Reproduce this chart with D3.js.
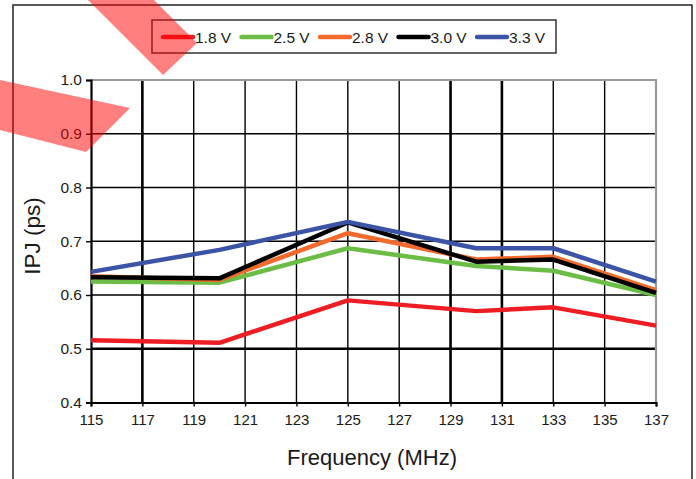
<!DOCTYPE html>
<html><head><meta charset="utf-8">
<script src="https://cdn.jsdelivr.net/npm/d3@7"></script>
<style>
html,body{margin:0;padding:0;background:#fff;}
svg{display:block;font-family:"Liberation Sans",Arial,sans-serif;}
</style></head>
<body>
<svg id="chart" width="696" height="479"></svg>
<script>
const frequencies = [115, 120, 125, 130, 133, 137];
const seriesNames = ["1.8 V", "2.5 V", "2.8 V", "3.0 V", "3.3 V"];
const seriesColors = ["#ee1d23", "#6cbd45", "#f26a2c", "#000000", "#3b54a5"];
const v18 = [0.516, 0.511, 0.590, 0.570, 0.577, 0.543];
const v25 = [0.625, 0.623, 0.687, 0.654, 0.645, 0.600];
const v28 = [0.635, 0.628, 0.715, 0.666, 0.671, 0.609];
const v30 = [0.633, 0.631, 0.735, 0.662, 0.666, 0.604];
const v33 = [0.643, 0.684, 0.736, 0.687, 0.687, 0.625];
const xTicks = [115,117,119,121,123,125,127,129,131,133,135,137];
const yTicks = [0.4,0.5,0.6,0.7,0.8,0.9,1.0];

const seriesValues = [v18, v25, v28, v30, v33];
const svg = d3.select("#chart");

const x = d3.scaleLinear().domain([115,137]).range([91,656]);
const y = d3.scaleLinear().domain([0.4,1.0]).range([402.5,80]);

// outer frame
svg.append("rect").attr("x",13).attr("y",5).attr("width",679).attr("height",490)
  .attr("fill","none").attr("stroke","#222").attr("stroke-width",1.5);

// gridlines
const thickX = new Set([117,129,131]);
svg.append("g").selectAll("line").data(xTicks.slice(1,-1)).join("line")
  .attr("x1",d=>x(d)).attr("x2",d=>x(d)).attr("y1",y(1.0)).attr("y2",y(0.4))
  .attr("stroke","#000").attr("stroke-width",d=>thickX.has(d)?2.6:1.4);
svg.append("g").selectAll("line").data(yTicks.slice(1,-1)).join("line")
  .attr("x1",x(115)).attr("x2",x(137)).attr("y1",d=>y(d)).attr("y2",d=>y(d))
  .attr("stroke","#000").attr("stroke-width",d=>d===0.5?2.6:1.4);

// top and right borders (gray)
svg.append("line").attr("x1",x(115)).attr("x2",x(137)+1).attr("y1",y(1.0)).attr("y2",y(1.0))
  .attr("stroke","#9a9a9a").attr("stroke-width",2.2);
svg.append("line").attr("x1",x(137)).attr("x2",x(137)).attr("y1",y(1.0)).attr("y2",y(0.4))
  .attr("stroke","#9a9a9a").attr("stroke-width",2.2);

// axes
const xAxis = d3.axisBottom(x).tickValues(xTicks).tickFormat(d3.format("d")).tickSize(4).tickPadding(8);
const gx = svg.append("g").attr("transform",`translate(0,${y(0.4)})`).call(xAxis);
gx.select(".domain").attr("stroke","#000").attr("stroke-width",2.2);
gx.selectAll(".tick line").attr("stroke","#000").attr("stroke-width",1.4);
gx.selectAll(".tick text").attr("font-size",15).attr("fill","#1a1a1a")
  .attr("font-family","'Liberation Sans',Arial,sans-serif");

const yAxis = d3.axisLeft(y).tickValues(yTicks).tickFormat(d3.format(".1f")).tickSize(5).tickPadding(4);
const gy = svg.append("g").attr("transform",`translate(${x(115)},0)`).call(yAxis);
gy.select(".domain").attr("stroke","#000").attr("stroke-width",2.2);
gy.selectAll(".tick line").attr("stroke","#000").attr("stroke-width",1.4);
gy.selectAll(".tick text").attr("font-size",15.5).attr("fill","#1a1a1a")
  .attr("font-family","'Liberation Sans',Arial,sans-serif");

// series lines
const line = d3.line().x((d,i)=>x(frequencies[i])).y(d=>y(d));
svg.append("g").selectAll("path").data(seriesValues).join("path")
  .attr("d",d=>line(d)).attr("fill","none")
  .attr("stroke",(d,i)=>seriesColors[i]).attr("stroke-width",4.5)
  .attr("stroke-linejoin","round");

// axis titles
svg.append("text").attr("x",372).attr("y",465).attr("text-anchor","middle")
  .attr("font-size",22).attr("fill","#1a1a1a").text("Frequency (MHz)");
svg.append("text").attr("transform","translate(40,236) rotate(-90)").attr("text-anchor","middle")
  .attr("font-size",22.5).attr("fill","#1a1a1a").text("IPJ (ps)");

// legend
svg.append("rect").attr("x",152).attr("y",20).attr("width",404).attr("height",33)
  .attr("fill","#fff").attr("stroke","#333").attr("stroke-width",1.5);
const lg = svg.append("g").selectAll("g").data(seriesNames).join("g")
  .attr("transform",(d,i)=>`translate(${163+i*78.5},37)`);
lg.append("line").attr("x1",0).attr("x2",30).attr("y1",0).attr("y2",0)
  .attr("stroke",(d,i)=>seriesColors[i]).attr("stroke-width",4.5).attr("stroke-linecap","round");
lg.append("text").attr("x",32).attr("y",5.5).attr("font-size",15.5).attr("fill","#1a1a1a").text(d=>d);

// translucent red overlay bands
const overlays = [
  [[88,0],[154,0],[197,43],[163,75]],
  [[0,80],[130,108],[86,152],[0,130]]
];
svg.append("g").selectAll("polygon").data(overlays).join("polygon")
  .attr("points",d=>d.map(p=>p.join(",")).join(" "))
  .attr("fill","rgb(255,0,0)").attr("fill-opacity",0.5);
</script>
</body></html>
